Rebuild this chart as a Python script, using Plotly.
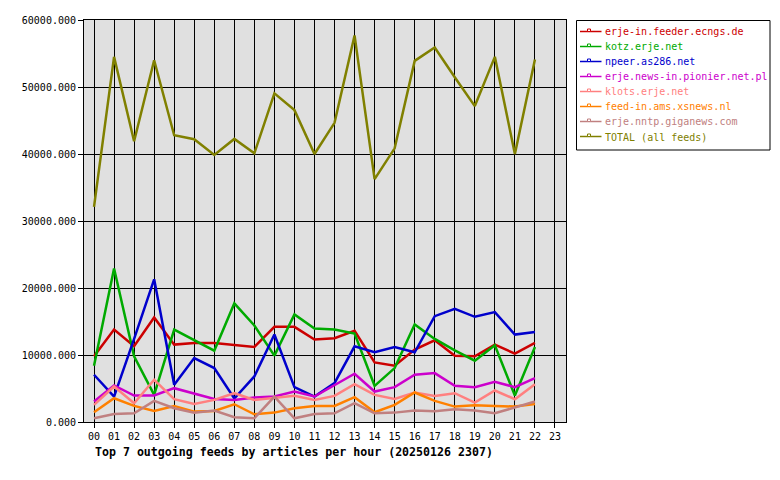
import plotly.graph_objects as go

hours = list(range(23))
hour_labels = [f"{h:02d}" for h in range(24)]

names = ["erje-in.feeder.ecngs.de", "kotz.erje.net", "npeer.as286.net",
         "erje.news-in.pionier.net.pl", "klots.erje.net", "feed-in.ams.xsnews.nl",
         "erje.nntp.giganews.com", "TOTAL (all feeds)"]
colors = ["#cc0000", "#00aa00", "#0000cc", "#cc00cc", "#ff8080", "#ff8000", "#c08080", "#808000"]

ecngs = [9800, 13800, 11300, 15600, 11550, 11800, 11800, 11450, 11200, 14200, 14200, 12300,
         12500, 13600, 8900, 8400, 10800, 12200, 9900, 9800, 11550, 10200, 11800]
kotz = [8400, 22900, 9800, 4050, 13800, 12200, 10650, 17700, 14400, 9900, 16050, 13950,
        13800, 13200, 5400, 8050, 14550, 12400, 10700, 9150, 11450, 3950, 11200]
npeer = [7050, 3800, 12400, 21300, 5550, 9550, 8050, 3500, 6800, 13050, 5200, 3800,
         5800, 11300, 10400, 11200, 10400, 15800, 16900, 15700, 16400, 13050, 13450]
pionier = [3050, 5450, 3950, 3950, 5050, 4200, 3450, 3300, 3650, 3800, 4550, 3800,
           5550, 7200, 4550, 5200, 7050, 7300, 5400, 5200, 6000, 5200, 6550]
klots = [2550, 5300, 2800, 6300, 3400, 2700, 3300, 4300, 3300, 3550, 3900, 3300,
         3900, 5650, 4050, 3450, 4400, 3900, 4300, 2900, 4700, 3400, 5650]
xsnews = [1450, 3550, 2400, 1650, 2400, 1550, 1650, 2650, 1150, 1400, 2050, 2400,
          2400, 3700, 1450, 2550, 4400, 3150, 2300, 2500, 2400, 2300, 2700]
giganews = [550, 1200, 1300, 3150, 2050, 1400, 1700, 700, 550, 3800, 550, 1200,
            1300, 2800, 1300, 1400, 1700, 1600, 1900, 1700, 1300, 2200, 3050]
total = [32100, 54500, 41900, 54000, 42800, 42200, 39850, 42250, 40100, 49050, 46550, 40000,
         44650, 57700, 36250, 40850, 53900, 55900, 51450, 47150, 54500, 40000, 54100]

series = [ecngs, kotz, npeer, pionier, klots, xsnews, giganews, total]
yticks = [0, 10000, 20000, 30000, 40000, 50000, 60000]
title = "Top 7 outgoing feeds by articles per hour (20250126 2307)"

mono = "DejaVu Sans Mono"

# plot area in pixels (for placing the legend box in paper coordinates)
PL, PT, PW, PH = 84, 20, 482, 402
def px(x):
    return (x - PL) / PW
def py(y):
    return (PT + PH - y) / PH

fig = go.Figure()
for n, c, v in zip(names, colors, series):
    fig.add_trace(go.Scatter(x=hours, y=v, mode="lines", name=n,
                             line=dict(color=c, width=2.5)))

shapes = [dict(type="rect", xref="paper", yref="paper",
               x0=px(576.5), x1=px(770), y0=py(20.5), y1=py(150),
               line=dict(color="black", width=1), fillcolor="white", layer="above")]
annotations = []
for i, (n, c) in enumerate(zip(names, colors)):
    yl = 31.5 + 15 * i
    shapes.append(dict(type="line", xref="paper", yref="paper",
                       x0=px(580), x1=px(601.5), y0=py(yl), y1=py(yl),
                       line=dict(color=c, width=1.5), layer="above"))
    shapes.append(dict(type="rect", xref="paper", yref="paper",
                       x0=px(587.5), x1=px(590.5), y0=py(yl - 2.5), y1=py(yl),
                       line=dict(color=c, width=1), fillcolor="white", layer="above"))
    annotations.append(dict(text=n, xref="paper", yref="paper",
                            x=px(603), y=py(yl + 0.5), xanchor="left", yanchor="middle",
                            showarrow=False, font=dict(family=mono, size=10, color=c)))

annotations.append(dict(text=f"<b>{title}</b>", xref="paper", yref="paper",
                        x=px(93), y=py(452), xanchor="left", yanchor="middle",
                        showarrow=False, font=dict(family=mono, size=11.6, color="black")))

fig.update_layout(
    width=780, height=480,
    margin=dict(l=84, r=214, t=20, b=58, autoexpand=False),
    paper_bgcolor="white", plot_bgcolor="#e0e0e0",
    font=dict(family=mono, size=10, color="black"),
    showlegend=False,
    xaxis=dict(range=[-0.5, 23.55], tickvals=list(range(24)), ticktext=hour_labels,
               showgrid=True, gridcolor="black", gridwidth=1,
               showline=True, linecolor="black", linewidth=1, mirror=True,
               ticks="outside", ticklen=5, tickcolor="black", zeroline=False,
               tickfont=dict(family=mono, size=10)),
    yaxis=dict(range=[0, 60000], tickvals=yticks, tickformat=".3f",
               showgrid=True, gridcolor="black", gridwidth=1,
               showline=True, linecolor="black", linewidth=1, mirror=True,
               ticks="outside", ticklen=5, tickcolor="black", zeroline=False,
               tickfont=dict(family=mono, size=10)),
    shapes=shapes,
    annotations=annotations,
)

fig.write_html("out.html")
